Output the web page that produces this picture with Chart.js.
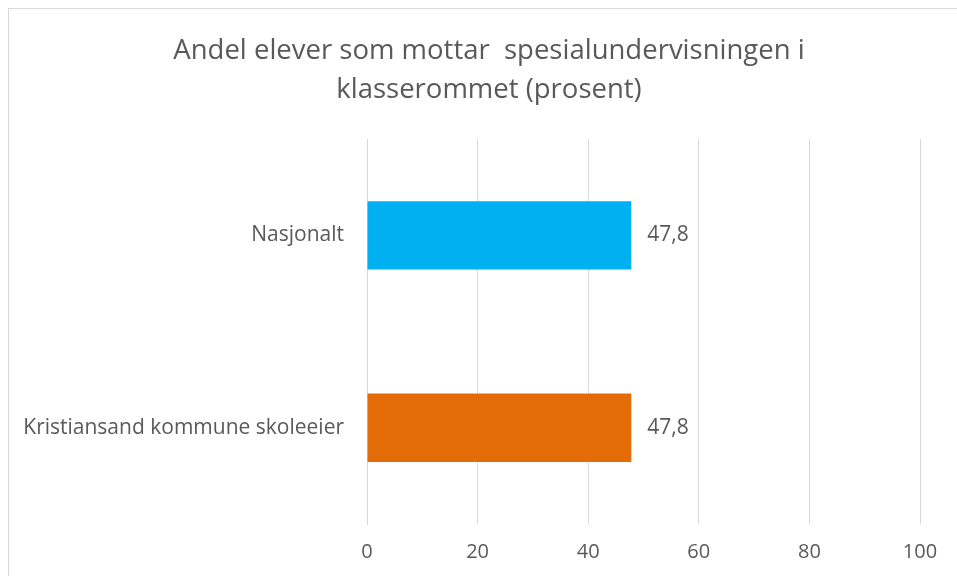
<!DOCTYPE html>
<html>
<head>
<meta charset="utf-8">
<script src="https://cdn.jsdelivr.net/npm/chart.js@4"></script>
<style>
    body { margin: 0; overflow: hidden; background: #fff; }
    #ramme {
        position: absolute; left: 8px; top: 8px;
        width: 960px; height: 580px;
        border-left: 1px solid #d9d9d9; border-top: 1px solid #d9d9d9;
    }
    #myChart { position: absolute; left: 0; top: 0; }
</style>
</head>
<body>
<div id="ramme"><canvas id="myChart" width="960" height="580"></canvas></div>
<script>
"use strict"

//dati
const kategorier = ["Nasjonalt", "Kristiansand kommune skoleeier"];
const verdier = [47.8, 47.8];
const farger = ["#00B0F0", "#E36C09"];
const tittel = ["Andel elever som mottar  spesialundervisningen i", "klasserommet (prosent)"];
const grigio = "#595959";

//etichette dei valori dopo la barra
const verdiEtiketter = {
    id: "verdiEtiketter",
    afterDatasetsDraw(chart) {
        const ctx = chart.ctx;
        const meta = chart.getDatasetMeta(0);
        ctx.save();
        ctx.font = "21px 'Open Sans'";
        ctx.fillStyle = grigio;
        ctx.textBaseline = "middle";
        meta.data.forEach(function (bar, i) {
            ctx.fillText(verdier[i].toFixed(1).replace(".", ","), bar.x + 16, bar.y);
        });
        ctx.restore();
    }
};

new Chart(document.getElementById("myChart"), {
    type: "bar",
    data: {
        labels: kategorier,
        datasets: [{
            data: verdier,
            backgroundColor: farger,
            categoryPercentage: 1,
            barPercentage: 0.355
        }]
    },
    options: {
        indexAxis: "y",
        responsive: false,
        animation: false,
        layout: { padding: { left: 0, right: 0, top: 0, bottom: 9 } },
        plugins: {
            legend: { display: false },
            tooltip: { enabled: false },
            title: {
                display: true,
                text: tittel,
                color: grigio,
                font: { family: "'Open Sans'", size: 27.5, weight: "normal", lineHeight: 1.42 },
                padding: { top: 23, bottom: 29 }
            }
        },
        scales: {
            x: {
                min: 0,
                max: 100,
                ticks: { stepSize: 20, color: grigio, padding: 16, font: { family: "'Open Sans'", size: 20 } },
                grid: { color: "#d9d9d9", drawTicks: false },
                border: { display: false }
            },
            y: {
                afterFit(scale) { scale.width = 358; },
                ticks: { color: grigio, padding: 15, font: { family: "'Open Sans'", size: 21 } },
                grid: { display: false },
                border: { color: "#d9d9d9" }
            },
            //asse vuoto a destra, solo per lo spazio
            destra: {
                position: "right",
                afterFit(scale) { scale.width = 49; },
                ticks: { display: false },
                grid: { display: false },
                border: { display: false }
            }
        }
    },
    plugins: [verdiEtiketter]
});
</script>
</body>
</html>
